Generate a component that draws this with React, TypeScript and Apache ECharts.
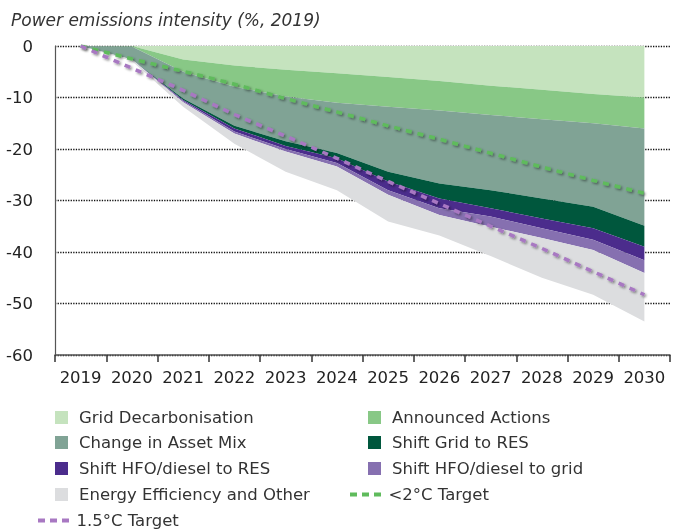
import React, { useEffect, useRef } from "react";
import * as echarts from "echarts";

const years = ["2019", "2020", "2021", "2022", "2023", "2024", "2025", "2026", "2027", "2028", "2029", "2030"];

const gridDecarbonisation = [0, 0, -2.6, -3.8, -4.6, -5.3, -6.0, -6.8, -7.7, -8.5, -9.3, -10.0];
const announcedActions = [0, -0.1, -2.4, -4.1, -5.2, -5.7, -5.8, -5.7, -5.7, -5.7, -5.7, -6.0];
const changeInAssetMix = [0, -2.5, -5.2, -7.6, -8.7, -9.8, -12.6, -14.2, -14.6, -15.4, -16.2, -18.9];
const shiftGridToRes = [0, 0, -0.3, -0.5, -0.9, -1.0, -1.9, -2.9, -3.5, -3.9, -4.2, -4.1];
const shiftHfoToRes = [0, 0, -0.2, -0.6, -0.6, -0.9, -1.7, -1.9, -1.6, -1.9, -2.2, -2.6];
const shiftHfoToGrid = [0, 0, -0.2, -0.4, -0.5, -0.7, -0.9, -1.3, -2.0, -1.9, -2.0, -2.5];
const energyEfficiency = [0, -0.3, -0.9, -2.0, -3.9, -4.6, -5.2, -4.0, -5.7, -7.7, -8.7, -9.4];

const target2C = [0, -2.5, -4.9, -7.4, -10.2, -12.8, -15.5, -18.1, -20.8, -23.5, -26.1, -28.6];
const target15C = [0, -4.3, -8.6, -13.3, -17.5, -21.8, -26.3, -30.6, -35.0, -39.3, -43.8, -48.3];

const FONT = "DejaVu Sans";

const areaLayers = [
  { name: "Grid Decarbonisation", data: gridDecarbonisation, color: "#c5e3be" },
  { name: "Announced Actions", data: announcedActions, color: "#88c886" },
  { name: "Change in Asset Mix", data: changeInAssetMix, color: "#80a395" },
  { name: "Shift Grid to RES", data: shiftGridToRes, color: "#00573d" },
  { name: "Shift HFO/diesel to RES", data: shiftHfoToRes, color: "#4b2c8c" },
  { name: "Shift HFO/diesel to grid", data: shiftHfoToGrid, color: "#8670b0" },
  { name: "Energy Efficiency and Other", data: energyEfficiency, color: "#dcdddf" },
];

const targets = [
  { name: "<2°C Target", data: target2C, color: "#5fbb5c" },
  { name: "1.5°C Target", data: target15C, color: "#a878c2" },
];

const rowCenters = [417, 442, 468, 494, 520];

export default function App() {
  const ref = useRef<HTMLDivElement>(null);

  useEffect(() => {
    const chart = echarts.init(ref.current!, null, { renderer: "svg" });

    const rectLegend = (name: string, left: number, row: number) => ({
      data: [name],
      left,
      top: rowCenters[row] - 8,
      icon: "rect",
      itemWidth: 13,
      itemHeight: 13,
      padding: 0,
      selectedMode: false,
      textStyle: { fontFamily: FONT, fontSize: 16.5, color: "#333", padding: [0, 0, 0, 6] },
    });
    const lineLegend = (name: string, left: number, row: number) => ({
      data: [name],
      left,
      top: rowCenters[row] - 8,
      icon: "path://M0,0h7v4h-7z M12,0h7v4h-7z M24,0h7v4h-7z",
      itemWidth: 32,
      itemHeight: 4,
      padding: 0,
      selectedMode: false,
      itemStyle: { borderWidth: 0 },
      lineStyle: { width: 0 },
      textStyle: { fontFamily: FONT, fontSize: 16.5, color: "#333", padding: [0, 0, 0, 2] },
    });

    const series: any[] = areaLayers.map((l) => ({
      name: l.name,
      type: "line",
      stack: "total",
      data: l.data,
      symbol: "none",
      color: l.color,
      lineStyle: { width: 0, color: l.color },
      areaStyle: { color: l.color, opacity: 1 },
      itemStyle: { color: l.color },
      emphasis: { disabled: true },
      z: 2,
    }));

    targets.forEach((t) => {
      series.push({
        name: t.name,
        type: "line",
        data: t.data,
        symbol: "none",
        color: t.color,
        itemStyle: { color: t.color },
        lineStyle: {
          color: t.color,
          width: 3.5,
          type: [6, 6],
          shadowColor: "rgba(0,0,0,0.45)",
          shadowBlur: 2,
          shadowOffsetX: 1.5,
          shadowOffsetY: 1.5,
        },
        emphasis: { disabled: true },
        z: 3,
      });
    });

    chart.setOption({
      animation: false,
      textStyle: { fontFamily: FONT },
      title: {
        text: "Power emissions intensity (%, 2019)",
        left: 11,
        top: 11,
        padding: 0,
        textStyle: { fontFamily: FONT, fontSize: 17, fontStyle: "italic", fontWeight: "normal", color: "#333" },
      },
      grid: { left: 55, right: 12, top: 46, bottom: 176, containLabel: false },
      xAxis: {
        type: "category",
        data: years,
        boundaryGap: true,
        position: "bottom",
        axisLine: { show: true, onZero: false, lineStyle: { color: "#555", width: 1.5 } },
        axisTick: { show: true, length: 7, interval: 0, inside: false, lineStyle: { color: "#333", width: 1.5 } },
        axisLabel: { fontFamily: FONT, fontSize: 16.5, color: "#222", margin: 14, interval: 0, hideOverlap: false },
        splitLine: { show: false },
        z: 5,
      },
      yAxis: {
        type: "value",
        min: -60,
        max: 0,
        interval: 10,
        axisLine: { show: true, onZero: false, lineStyle: { color: "#555", width: 1.2 } },
        axisTick: { show: false },
        axisLabel: { fontFamily: FONT, fontSize: 16.5, color: "#222", margin: 22 },
        splitLine: { show: true, lineStyle: { color: "#111", width: 1.3, type: "dotted" } },
      },
      legend: [
        rectLegend("Grid Decarbonisation", 55, 0),
        rectLegend("Announced Actions", 368, 0),
        rectLegend("Change in Asset Mix", 55, 1),
        rectLegend("Shift Grid to RES", 368, 1),
        rectLegend("Shift HFO/diesel to RES", 55, 2),
        rectLegend("Shift HFO/diesel to grid", 368, 2),
        rectLegend("Energy Efficiency and Other", 55, 3),
        lineLegend("<2°C Target", 350, 3),
        lineLegend("1.5°C Target", 38, 4),
      ],
      series,
    });

    return () => chart.dispose();
  }, []);

  return <div ref={ref} style={{ position: "fixed", left: 0, top: 0, width: 682, height: 531 }} />;
}
